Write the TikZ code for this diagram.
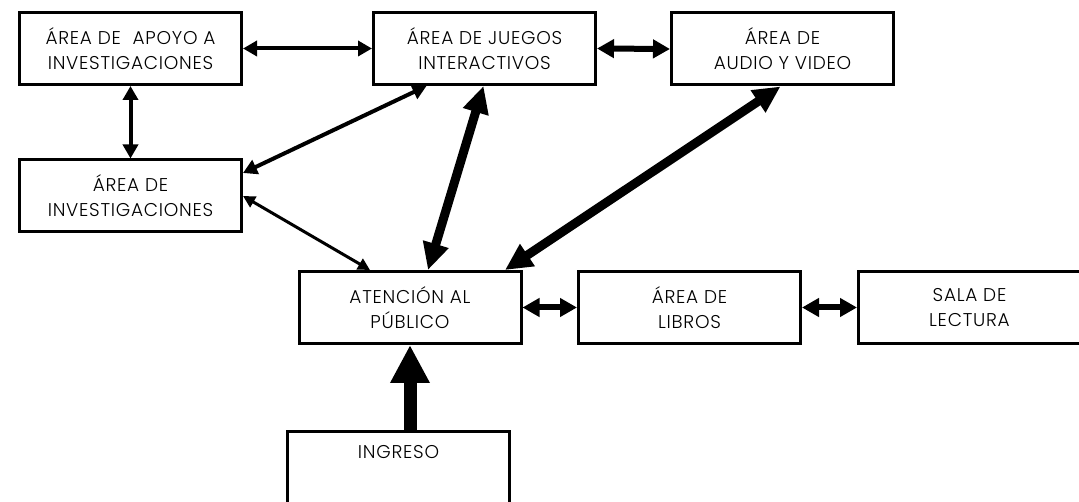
\documentclass[tikz,border=0pt]{standalone}
\usepackage{fontspec}
\setmainfont{Poppins}[UprightFont={* Light},LetterSpace=4]
\usetikzlibrary{arrows.meta,calc}
\begin{document}
\begin{tikzpicture}[x=1pt,y=-1pt,
  txt/.style={font=\fontsize{18.5pt}{25pt}\selectfont},
  box/.style={draw=black,line width=3pt,rectangle,minimum width=222pt,minimum height=72pt,
    align=center,inner sep=0pt,txt},
  lbl/.style={inner sep=0pt,txt},
  thinarrow/.style={line width=3pt,{Triangle[length=12pt,width=12pt]}-{Triangle[length=12pt,width=12pt]}},
  medarrow/.style={line width=4pt,{Triangle[length=14pt,width=15pt]}-{Triangle[length=14pt,width=15pt]}},
  widearrow/.style={line width=6pt,{Triangle[length=17pt,width=18pt]}-{Triangle[length=17pt,width=18pt]}},
  boldarrow/.style={line width=9pt,{Triangle[length=27pt,width=25pt]}-{Triangle[length=27pt,width=25pt]}},
  entryarrow/.style={line width=13pt,-{Triangle[length=38pt,width=37pt]}}
]
\fill[white] (0,0) rectangle (1079,502);
\useasboundingbox (0,0) rectangle (1079,502);

\node[box] (apoyo) at (130.5,48.5) {ÁREA DE \ APOYO A\\INVESTIGACIONES};
\node[box] (juegos) at (484.5,48.5) {ÁREA DE JUEGOS\\INTERACTIVOS};
\node[box] (audio) at (782.5,49) {ÁREA DE\\AUDIO Y VIDEO};
\node[box] (inv) at (130.5,196) {ÁREA DE\\INVESTIGACIONES};
\node[box] (aten) at (410,307.5) {ATENCIÓN AL\\PÚBLICO};
\node[box] (libros) at (689.5,307.5) {ÁREA DE\\LIBROS};
\node[box] (sala) at (969.5,307.5) {SALA DE\\LECTURA};
\node[box] (ingreso) at (398.5,467) {};
\node[lbl] (ingresotxt) at (398.5,452) {INGRESO};

\draw[medarrow] (apoyo.east) -- (juegos.west);
\draw[widearrow] (juegos.east) -- (audio.west);
\draw[medarrow] (apoyo.south) -- (inv.north);
\draw[medarrow] ($(inv.east)+(0,-23)$) -- ($(juegos.south)+(-58,0)$);
\draw[thinarrow] (inv.east) -- ($(aten.north)+(-40,0)$);
\draw[boldarrow] ($(juegos.south)+(-1,0)$) -- ($(aten.north)+(18,0)$);
\draw[boldarrow] ($(audio.south)+(-2,0)$) -- ($(aten.north)+(95,0)$);
\draw[entryarrow] (ingreso.north -| aten.south) -- (aten.south);
\draw[widearrow] (aten.east) -- (libros.west);
\draw[widearrow] (libros.east) -- (sala.west);
\end{tikzpicture}
\end{document}
